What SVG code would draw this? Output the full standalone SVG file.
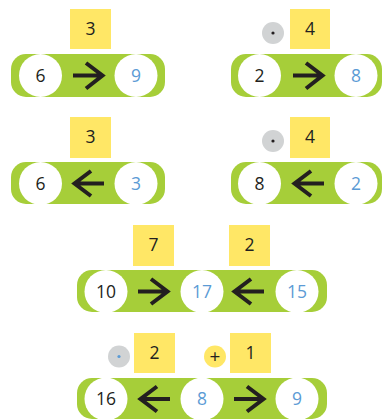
<svg xmlns="http://www.w3.org/2000/svg" width="382" height="419" viewBox="0 0 382 419">
<style>
.bar{fill:#A6CE39}
.c{fill:#FFFFFF}
.box{fill:#FFE766}
.g{fill:#D1D3D4}
.y{fill:#FFE766}
.t{font-family:"Open Sans","Liberation Sans",sans-serif;font-size:17.5px;fill:#231F20;text-anchor:middle}
.b{fill:#5B9BD5}
.a{fill:none;stroke:#231F20;stroke-width:4}
</style>
<rect width="382" height="419" fill="#FFFFFF"/>
<g id="n1">
<rect class="box" x="70" y="9" width="41" height="40"/>
<text class="t" x="90.5" y="35">3</text>
<rect class="bar" x="11" y="54" width="154" height="43" rx="15"/>
<circle class="c" cx="40.5" cy="75.5" r="21.5"/>
<circle class="c" cx="136" cy="75.5" r="21.5"/>
<text class="t" x="40.5" y="81.5">6</text>
<text class="t b" x="136" y="81.5">9</text>
</g>
<g id="n2">
<circle class="g" cx="273" cy="33" r="11"/>
<circle cx="273" cy="33" r="1.6" fill="#231F20"/>
<rect class="box" x="290" y="9" width="40" height="40"/>
<text class="t" x="310" y="35">4</text>
<rect class="bar" x="231" y="54" width="151" height="43" rx="15"/>
<circle class="c" cx="259.5" cy="75.5" r="21.5"/>
<circle class="c" cx="356" cy="75.5" r="21.5"/>
<text class="t" x="259.5" y="81.5">2</text>
<text class="t b" x="356" y="81.5">8</text>
</g>
<g id="n3">
<rect class="box" x="70" y="117" width="41" height="41"/>
<text class="t" x="90.5" y="143">3</text>
<rect class="bar" x="11" y="162" width="154" height="42" rx="15"/>
<circle class="c" cx="40.5" cy="183.5" r="21.5"/>
<circle class="c" cx="136" cy="183.5" r="21.5"/>
<text class="t" x="40.5" y="189.5">6</text>
<text class="t b" x="136" y="189.5">3</text>
</g>
<g id="n4">
<circle class="g" cx="273" cy="141" r="11"/>
<circle cx="273" cy="141" r="1.6" fill="#231F20"/>
<rect class="box" x="290" y="117" width="40" height="41"/>
<text class="t" x="310" y="143">4</text>
<rect class="bar" x="231" y="162" width="151" height="42" rx="15"/>
<circle class="c" cx="259.5" cy="183.5" r="21.5"/>
<circle class="c" cx="356" cy="183.5" r="21.5"/>
<text class="t" x="259.5" y="189.5">8</text>
<text class="t b" x="356" y="189.5">2</text>
</g>
<g id="n5">
<rect class="box" x="133" y="225" width="41" height="41"/>
<text class="t" x="153.5" y="251">7</text>
<rect class="box" x="229" y="225" width="41" height="41"/>
<text class="t" x="249.5" y="251">2</text>
<rect class="bar" x="77" y="270" width="250" height="42" rx="15"/>
<circle class="c" cx="106" cy="291.5" r="21.5"/>
<circle class="c" cx="202" cy="291.5" r="21.5"/>
<circle class="c" cx="297" cy="291.5" r="21.5"/>
<text class="t" x="106" y="297.5">10</text>
<text class="t b" x="202" y="297.5">17</text>
<text class="t b" x="297" y="297.5">15</text>
</g>
<g id="n6">
<circle class="g" cx="119" cy="356.5" r="11"/>
<circle cx="119" cy="356.5" r="1.6" fill="#5B9BD5"/>
<rect class="box" x="134" y="333" width="41" height="40"/>
<text class="t" x="154.5" y="359">2</text>
<circle class="y" cx="215" cy="356.5" r="11"/>
<text class="t" x="215" y="362.5" style="font-size:19px">+</text>
<rect class="box" x="230" y="333" width="41" height="40"/>
<text class="t" x="250.5" y="359">1</text>
<rect class="bar" x="77" y="378" width="250" height="41" rx="15"/>
<circle class="c" cx="106" cy="399" r="21.5"/>
<circle class="c" cx="202" cy="399" r="21.5"/>
<circle class="c" cx="297" cy="399" r="21.5"/>
<text class="t" x="106" y="405">16</text>
<text class="t b" x="202" y="405">8</text>
<text class="t b" x="297" y="405">9</text>
</g>
<g id="connectors">
<path class="a" d="M73 75.5H103M86 63L102.5 75.5L86 88.5"/>
<path class="a" d="M293 75.5H323M306 63L322.5 75.5L306 88.5"/>
<path class="a" d="M104 183.5H74M91 171L74.5 183.5L91 196"/>
<path class="a" d="M324 183.5H294M311 171L294.5 183.5L311 196"/>
<path class="a" d="M138 291.5H168M151 279L167.5 291.5L151 304"/>
<path class="a" d="M264 291.5H234M251 279L234.5 291.5L251 304"/>
<path class="a" d="M170 399H140M157 386.5L140.5 399L157 411.5"/>
<path class="a" d="M234 399H264M247 386.5L263.5 399L247 411.5"/>
</g>
</svg>
